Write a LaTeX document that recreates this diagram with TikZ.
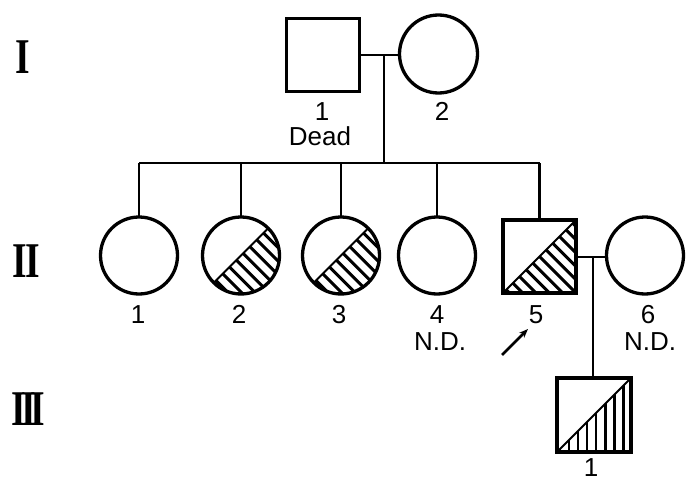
\documentclass[tikz,border=0pt]{standalone}
\usepackage{fontspec}
\usepackage{graphicx}
\setmainfont{Liberation Sans}
\newfontfamily\romfont{Liberation Serif}
\usetikzlibrary{arrows.meta,calc}
\begin{document}
\begin{tikzpicture}[x=1pt,y=1pt,
  every node/.style={inner sep=0pt,outer sep=0pt},
  ln/.style={line width=2.8pt},
  fem/.style={circle,draw,line width=3.3pt,minimum size=77pt},
  mal/.style={rectangle,draw,line width=3.1pt,minimum size=73pt},
  lab/.style={font=\fontsize{26}{26}\selectfont,anchor=base},
  gen/.style={font=\romfont\bfseries\fontsize{50}{50}\selectfont,anchor=base},
  hatchln/.style={line width=3pt}]
\useasboundingbox (0,0) rectangle (686,-479);

% generation labels
\node[gen] (gI) at (22.5,-73) {\scalebox{0.75}[1]{I}};
\node[gen] (gII) at (26.5,-277) {\scalebox{0.75}[1]{I\kern-2.5pt I}};
\node[gen] (gIII) at (28.5,-425) {\scalebox{0.75}[1]{I\kern-6.5pt I\kern-6.5pt I}};

% generation I
\node[mal] (I1) at (323,-55) {};
\node[fem, minimum size=78pt] (I2) at (438.5,-54) {};
\coordinate (m1) at (384,-55);
\coordinate (s1) at (384,-163);

% generation II
\node[fem] (II1) at (139,-255.5) {};
\node[fem] (II2) at (241,-255.5) {};
\node[fem] (II3) at (341,-255.5) {};
\node[fem] (II4) at (437,-255.5) {};
\node[mal] (II5) at (539.5,-256.5) {};
\node[fem] (II6) at (645,-255.5) {};
\coordinate (m2) at (593,-257);

% generation III
\node[mal, minimum size=74pt] (III1) at (594,-415) {};

% connectors
\draw[ln] (I1.east |- m1) -- (I2.west |- m1);
\draw[ln] (m1) -- (s1);
\draw[ln] (II1.north |- s1) -- (II5.north |- s1);
\foreach \n in {II1,II2,II3,II4,II5} \draw[ln] (\n.north |- s1) -- (\n.north);
\draw[ln] (II5.east |- m2) -- (II6.west |- m2);
\draw[ln] (m2) -- (m2 |- III1.north);

% hatching II-2, II-3
\foreach \n in {II2,II3} {
  \begin{scope}
    \clip (\n.center) ++(45:38.5) arc[start angle=45,end angle=-135,radius=38.5] -- cycle;
    \foreach \k in {-5,...,5}
      \draw[hatchln] ($(\n.center)+({45}:{\k*9.6+3})+(-45:50)$) -- ($(\n.center)+({45}:{\k*9.6+3})+(135:50)$);
  \end{scope}
  \draw[line width=1.8pt] (\n.center) ++(225:38.5) -- ++(45:77);
}

% hatching II-5
\begin{scope}
  \clip (II5.south west) -- (II5.north east) -- (II5.south east) -- cycle;
  \foreach \k in {-7,...,7}
    \draw[hatchln] ($(II5.center)+({45}:{\k*9.4})+(-45:60)$) -- ($(II5.center)+({45}:{\k*9.4})+(135:60)$);
\end{scope}
\draw[line width=2pt] (II5.south west) -- (II5.north east);

% hatching III-1
\begin{scope}
  \clip (III1.south west) -- (III1.north east) -- (III1.south east) -- cycle;
  \foreach \k in {-1,...,7}
    \draw[line width=2.5pt] ({568.9+9.1*\k},-370) -- ({568.9+9.1*\k},-460);
\end{scope}
\draw[line width=2pt] (III1.south west) -- (III1.north east);

% labels
\node[lab] (tI1) at (322,-120) {1};
\node[lab] (tI1d) at (320,-145) {Dead};
\node[lab] (tI2) at (442,-120) {2};
\node[lab] (tII1) at (138,-323) {1};
\node[lab] (tII2) at (239,-323) {2};
\node[lab] (tII3) at (339,-323) {3};
\node[lab] (tII4) at (437,-323) {4};
\node[lab] (tII4n) at (440,-350) {N.D.};
\node[lab] (tII5) at (536,-323) {5};
\node[lab] (tII6) at (648,-323) {6};
\node[lab] (tII6n) at (650,-350) {N.D.};
\node[lab] (tIII1) at (591,-476.5) {1};

% proband arrow
\coordinate (a0) at (502,-355);
\coordinate (a1) at (528,-329);
\draw[line width=2.5pt,-{Stealth[length=9pt,width=7pt]}] (a0) -- (a1);
\end{tikzpicture}
\end{document}
